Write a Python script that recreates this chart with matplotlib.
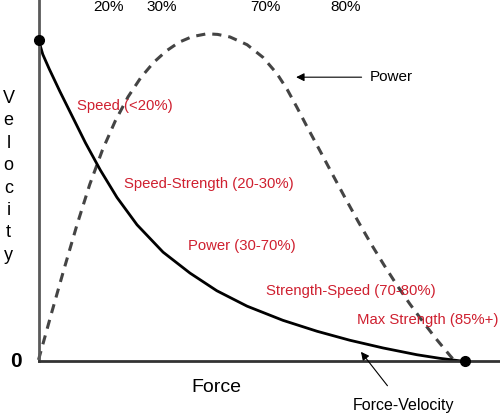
import matplotlib
matplotlib.use("Agg")
import matplotlib.pyplot as plt

plt.rcParams['font.family'] = ['Liberation Sans', 'DejaVu Sans']

# force-velocity curve (% of max force, % of max velocity)
fv_force = [0, 1, 2.5, 5, 8, 11, 14.5, 18.4, 23.1, 29.2, 35.5, 41.8, 48.9,
            57.3, 65.3, 73.0, 80.8, 88.7, 94, 100]
fv_velocity = [100, 95.5, 91, 84, 76, 68, 59.5, 51, 42.5, 34, 27.5, 22, 17.2,
               12.8, 9.4, 6.6, 4.2, 2.1, 1.0, 0]

# power curve (dashed)
pw_force = [0, 3, 6, 9, 12, 15, 18, 21, 24, 27, 30, 33, 36, 39.5, 42, 44.9,
            48.9, 52.6, 55.9, 58.3, 60.6, 63, 66, 69, 72, 75, 78, 81, 84, 87,
            90, 93, 96.5, 97.7]
pw_value = [0.5, 14.8, 28.8, 42.4, 55.0, 65.8, 74.8, 82.3, 88.3, 93.0, 96.6,
            99.3, 101.0, 101.9, 101.7, 100.9, 98.5, 94.6, 89.5, 84.6, 79.0,
            72.9, 65.5, 58.0, 50.6, 43.4, 36.5, 30.0, 23.8, 18.0, 12.6, 7.4,
            1.8, 0]

top_pcts = ['20%', '30%', '70%', '80%']
top_pct_x = [16.3, 29.0, 53.1, 71.9]

zones = ['Speed (<20%)', 'Speed-Strength (20-30%)', 'Power (30-70%)',
         'Strength-Speed (70-80%)', 'Max Strength (85%+)']
zone_x = [9.0, 20.0, 35.1, 53.3, 74.6]
zone_y = [79.5, 55.2, 35.9, 21.9, 12.9]

RED = '#cf2030'

fig = plt.figure(figsize=(5, 4.15), dpi=100)
ax = fig.add_axes([0, 0, 1, 1])
ax.set_xlim(-9.03, 108.2)
ax.set_ylim(-16.64, 112.4)

# axes drawn as spines through the origin
for s in ['top', 'right']:
    ax.spines[s].set_visible(False)
ax.spines['left'].set_position(('data', 0))
ax.spines['bottom'].set_position(('data', 0))
ax.spines['left'].set_bounds(0, 112.4)
ax.spines['bottom'].set_bounds(0, 108.2)
ax.spines['left'].set_color('#5a5a5a')
ax.spines['bottom'].set_color('#333333')
ax.spines['left'].set_linewidth(2.0)
ax.spines['bottom'].set_linewidth(2.0)
ax.set_xticks([])
ax.set_yticks([])

ax.plot(pw_force, pw_value, color='#444444', lw=2.2, dashes=[3.0, 2.3])
ax.plot(fv_force, fv_velocity, color='black', lw=2.0)
ax.plot([fv_force[0], fv_force[-1]], [fv_velocity[0], fv_velocity[-1]],
        'o', color='black', ms=7, zorder=5)

for lab, x in zip(top_pcts, top_pct_x):
    ax.text(x, 110.1, lab, ha='center', va='center', fontsize=11)

for lab, x, y in zip(zones, zone_x, zone_y):
    ax.text(x, y, lab, ha='left', va='center', fontsize=10.7, color=RED)

# vertical axis title, one letter per line
for i, ch in enumerate('Velocity'):
    ax.text(-7.0, 80.4 - i * 6.97, ch, ha='center', va='baseline', fontsize=13)

ax.text(-5.4, 0, '0', ha='center', va='center', fontsize=15, fontweight='bold')
ax.text(41.6, -8.2, 'Force', ha='center', va='center', fontsize=14)

ax.annotate('Power', xy=(60.4, 88.4), xytext=(77.7, 88.4), ha='left', va='center',
            fontsize=11,
            arrowprops=dict(arrowstyle='-|>', color='black', lw=0.8,
                            mutation_scale=12, shrinkA=4, shrinkB=0))
ax.annotate('Force-Velocity', xy=(75.6, 3.0), xytext=(85.5, -13.8), ha='center',
            va='center', fontsize=11.5,
            arrowprops=dict(arrowstyle='-|>', color='black', lw=0.8,
                            mutation_scale=12, shrinkA=9, shrinkB=0))

fig.savefig('out.png', dpi=100)
